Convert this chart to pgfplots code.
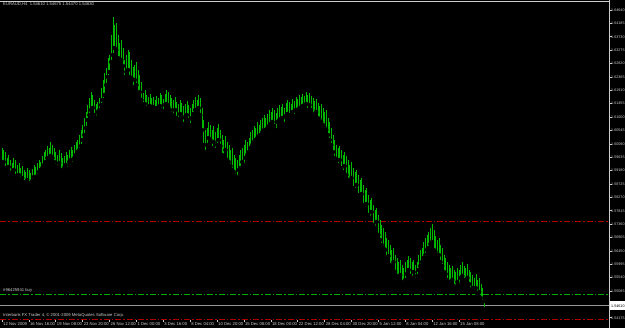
\documentclass[border=0pt]{standalone}
\usepackage{fontspec}
\setmainfont{Liberation Sans}
\usepackage{pgfplots}
\usepackage{pgfplotstable}
\usetikzlibrary{backgrounds}
\pgfplotsset{compat=1.18}
\definecolor{barg}{RGB}{0,185,0}
\definecolor{axgray}{RGB}{205,205,205}
\definecolor{ordred}{RGB}{175,0,0}
\definecolor{ordgreen}{RGB}{0,170,0}
\definecolor{bidgray}{RGB}{150,150,150}

\pgfplotstableread{
i hi lo
0 1.59948 1.59370
1 1.59880 1.59472
2 1.59812 1.59268
3 1.59608 1.59200
4 1.59710 1.59302
5 1.59540 1.59030
6 1.59438 1.59132
7 1.59608 1.59200
8 1.59540 1.58996
9 1.59370 1.58928
10 1.59438 1.59030
11 1.59268 1.58860
12 1.59336 1.58928
13 1.59200 1.58724
14 1.59132 1.58792
15 1.59268 1.58860
16 1.59200 1.58656
17 1.59098 1.58758
18 1.59234 1.58826
19 1.59370 1.58962
20 1.59302 1.58894
21 1.59438 1.58996
22 1.59540 1.59132
23 1.59472 1.59200
24 1.59676 1.59268
25 1.59812 1.59370
26 1.59880 1.59472
27 1.60016 1.59608
28 1.59948 1.59540
29 1.60152 1.59676
30 1.60050 1.59608
31 1.59948 1.59472
32 1.59812 1.59336
33 1.59710 1.59268
34 1.59880 1.59438
35 1.59778 1.59200
36 1.59608 1.59132
37 1.59676 1.59268
38 1.59812 1.59370
39 1.59710 1.59234
40 1.59880 1.59472
41 1.59982 1.59540
42 1.59880 1.59404
43 1.60050 1.59608
44 1.60152 1.59710
45 1.60220 1.59812
46 1.60390 1.59880
47 1.60560 1.60016
48 1.60730 1.60220
49 1.60968 1.60390
50 1.61172 1.60628
51 1.61410 1.60900
52 1.61648 1.61070
53 1.61852 1.61240
54 1.61750 1.61308
55 1.61580 1.61070
56 1.61444 1.60968
57 1.61512 1.61172
58 1.61648 1.61240
59 1.61988 1.61410
60 1.62260 1.61580
61 1.62498 1.61750
62 1.62668 1.62090
63 1.63008 1.62362
64 1.63110 1.62532
65 1.63790 1.62872
66 1.64402 1.63110
67 1.64130 1.63348
68 1.64198 1.63280
69 1.63790 1.63008
70 1.63518 1.62838
71 1.63620 1.62940
72 1.63348 1.62736
73 1.62940 1.62362
74 1.63110 1.62532
75 1.63280 1.62600
76 1.63212 1.62362
77 1.62940 1.62328
78 1.62702 1.62022
79 1.62770 1.62260
80 1.62872 1.62090
81 1.62600 1.61818
82 1.62430 1.61852
83 1.62192 1.61580
84 1.61818 1.61342
85 1.61920 1.61444
86 1.61750 1.61308
87 1.61682 1.61240
88 1.61784 1.61376
89 1.61648 1.61274
90 1.61682 1.61342
91 1.61580 1.61172
92 1.61716 1.61308
93 1.61648 1.61240
94 1.61818 1.61376
95 1.61750 1.61240
96 1.61614 1.61172
97 1.61784 1.61410
98 1.61920 1.61444
99 1.61852 1.61342
100 1.61750 1.61240
101 1.61648 1.61104
102 1.61580 1.61036
103 1.61682 1.61240
104 1.61512 1.60968
105 1.61444 1.60900
106 1.61580 1.61104
107 1.61478 1.60968
108 1.61376 1.60764
109 1.61444 1.61002
110 1.61546 1.61070
111 1.61410 1.60900
112 1.61308 1.60730
113 1.61444 1.60968
114 1.61580 1.61104
115 1.61682 1.61240
116 1.61580 1.61172
117 1.61750 1.61308
118 1.61648 1.61070
119 1.61308 1.60560
120 1.60900 1.60050
121 1.60560 1.59812
122 1.60628 1.60050
123 1.60832 1.60288
124 1.60730 1.60220
125 1.60560 1.59948
126 1.60696 1.60152
127 1.60492 1.59880
128 1.60628 1.60050
129 1.60764 1.60220
130 1.60560 1.60016
131 1.60390 1.59710
132 1.60220 1.59608
133 1.60356 1.59880
134 1.60152 1.59540
135 1.60050 1.59472
136 1.59880 1.59336
137 1.59948 1.59200
138 1.59710 1.59132
139 1.59608 1.58996
140 1.59540 1.58928
141 1.59710 1.59200
142 1.59880 1.59268
143 1.59948 1.59472
144 1.60050 1.59370
145 1.60220 1.59608
146 1.60152 1.59710
147 1.60288 1.59812
148 1.60492 1.59948
149 1.60560 1.60050
150 1.60696 1.60152
151 1.60628 1.60220
152 1.60832 1.60288
153 1.60730 1.60356
154 1.60900 1.60390
155 1.60968 1.60492
156 1.61070 1.60560
157 1.60968 1.60458
158 1.61104 1.60628
159 1.61240 1.60696
160 1.61172 1.60764
161 1.61308 1.60832
162 1.61240 1.60696
163 1.61138 1.60560
164 1.61308 1.60832
165 1.61410 1.60900
166 1.61342 1.60934
167 1.61444 1.60968
168 1.61308 1.60764
169 1.61478 1.61036
170 1.61580 1.61104
171 1.61512 1.60968
172 1.61444 1.61070
173 1.61614 1.61172
174 1.61546 1.61036
175 1.61682 1.61240
176 1.61614 1.61172
177 1.61750 1.61308
178 1.61682 1.61240
179 1.61784 1.61376
180 1.61716 1.61308
181 1.61852 1.61444
182 1.61750 1.61240
183 1.61818 1.61410
184 1.61716 1.61240
185 1.61648 1.61104
186 1.61546 1.61070
187 1.61614 1.61172
188 1.61478 1.60968
189 1.61376 1.60900
190 1.61444 1.60832
191 1.61308 1.60730
192 1.61172 1.60628
193 1.61240 1.60560
194 1.60968 1.60390
195 1.60832 1.60220
196 1.60628 1.60050
197 1.60390 1.59812
198 1.60220 1.59608
199 1.60050 1.59540
200 1.59948 1.59370
201 1.60016 1.59540
202 1.59880 1.59268
203 1.59710 1.59132
204 1.59812 1.59336
205 1.59676 1.59030
206 1.59540 1.58860
207 1.59370 1.58792
208 1.59472 1.58928
209 1.59268 1.58588
210 1.59132 1.58520
211 1.59200 1.58690
212 1.59030 1.58350
213 1.58860 1.58248
214 1.58928 1.58384
215 1.58690 1.58010
216 1.58520 1.57908
217 1.58588 1.58044
218 1.58350 1.57670
219 1.58180 1.57568
220 1.58248 1.57772
221 1.58010 1.57330
222 1.57840 1.57228
223 1.57908 1.57432
224 1.57670 1.56990
225 1.57500 1.56820
226 1.57330 1.56650
227 1.57228 1.56548
228 1.57092 1.56480
229 1.56888 1.56208
230 1.56820 1.56276
231 1.56650 1.55970
232 1.56480 1.55868
233 1.56548 1.56072
234 1.56310 1.55732
235 1.56208 1.55596
236 1.56072 1.55528
237 1.56140 1.55630
238 1.55970 1.55392
239 1.55868 1.55324
240 1.56072 1.55460
241 1.56140 1.55664
242 1.56276 1.55800
243 1.56208 1.55596
244 1.56072 1.55528
245 1.56140 1.55732
246 1.55970 1.55460
247 1.56072 1.55596
248 1.56310 1.55800
249 1.56480 1.55936
250 1.56548 1.56072
251 1.56752 1.56208
252 1.56888 1.56310
253 1.56990 1.56480
254 1.57092 1.56548
255 1.57228 1.56684
256 1.57364 1.56752
257 1.57160 1.56480
258 1.56956 1.56412
259 1.56820 1.56208
260 1.56888 1.56310
261 1.56650 1.56072
262 1.56548 1.55936
263 1.56310 1.55732
264 1.56208 1.55664
265 1.56072 1.55460
266 1.55970 1.55392
267 1.55868 1.55290
268 1.55936 1.55460
269 1.55800 1.55256
270 1.55732 1.55188
271 1.55868 1.55392
272 1.55800 1.55290
273 1.55970 1.55528
274 1.56072 1.55596
275 1.55936 1.55460
276 1.55868 1.55392
277 1.56004 1.55528
278 1.55800 1.55324
279 1.55732 1.55120
280 1.55630 1.55188
281 1.55528 1.55052
282 1.55664 1.55188
283 1.55460 1.54950
284 1.55528 1.55052
285 1.55324 1.54848
286 1.55188 1.54712
287 1.54675 1.54470
}\bars

\begin{document}
\begin{tikzpicture}[x=1pt,y=1pt]
\begin{axis}[
  name=mt, at={(0pt,8pt)}, anchor=south west, scale only axis,
  width=609pt, height=319pt,
  xmin=-1.19, xmax=361.3, ymin=1.54100, ymax=1.64946,
  axis line style={draw=none},
  tick style={axgray, line width=0.6pt},
  tick align=outside, major tick length=2.5pt,
  xtick pos=bottom, ytick pos=right,
  yticklabel pos=right,
  xtick={0,16,...,272},
  xticklabels={12 Nov 2009,16 Nov 16:00,19 Nov 08:00,23 Nov 20:00,26 Nov 12:00,1 Dec 00:00,3 Dec 16:00,8 Dec 04:00,10 Dec 20:00,15 Dec 08:00,18 Dec 00:00,22 Dec 12:00,28 Dec 04:00,30 Dec 20:00,5 Jan 12:00,8 Jan 04:00,12 Jan 16:00,15 Jan 08:00},
  xticklabel style={anchor=north west, inner sep=0pt, xshift=1pt, text=axgray, font=\fontsize{4.2}{5}\selectfont},
  ytick={1.64640,1.64185,1.63730,1.63275,1.62820,1.62365,1.61910,1.61455,1.61000,1.60545,1.60090,1.59635,1.59180,1.58725,1.58270,1.57815,1.57360,1.56905,1.56450,1.55995,1.55540,1.55085,1.54175},
  yticklabels={1.64640,1.64185,1.63730,1.63275,1.62820,1.62365,1.61910,1.61455,1.61000,1.60545,1.60090,1.59635,1.59180,1.58725,1.58270,1.57815,1.57360,1.56905,1.56450,1.55995,1.55540,1.55085,1.54175},
  yticklabel style={anchor=west, inner sep=0pt, xshift=-0.5pt, text=axgray, font=\fontsize{3.7}{4.5}\selectfont},
]
\addplot[ordred, line width=0.6pt, dash pattern=on 6pt off 2pt on 1.5pt off 2pt, forget plot]
  coordinates {(-1.19,1.57466) (361.3,1.57466)};
\addplot[ordred, line width=0.6pt, dash pattern=on 6pt off 2pt on 1.5pt off 2pt, forget plot]
  coordinates {(-1.19,1.54134) (361.3,1.54134)};
\addplot[ordgreen, line width=0.6pt, dash pattern=on 6pt off 2pt on 1.5pt off 2pt, forget plot]
  coordinates {(-1.19,1.54984) (361.3,1.54984)};
\addplot[bidgray, line width=0.6pt, forget plot]
  coordinates {(-1.19,1.54610) (361.3,1.54610)};
\addplot[only marks, mark=none, forget plot,
  error bars/.cd, y dir=plus, y explicit, error mark=none,
  error bar style={barg, line width=0.55pt}]
  table[x=i, y=lo, y error expr=\thisrow{hi}-\thisrow{lo}] {\bars};
\end{axis}
\begin{scope}[on background layer]
\fill[black] (0,0) rectangle (625,328);
\end{scope}
\draw[axgray, line width=0.6pt] (609,0) -- (609,328);
\draw[axgray, line width=0.6pt] (0,326.5) -- (609,326.5);
\node[anchor=north west, inner sep=0pt, text=axgray, font=\fontsize{4.2}{5}\selectfont] at (3,325.5) {EURAUD,H4\ \ 1.54610 1.54675 1.54470 1.54630};
\node[anchor=south west, inner sep=0pt, text=axgray, font=\fontsize{4.2}{5}\selectfont] at (3,35) {\#96425941 buy};
\node[anchor=west, inner sep=0pt, text=axgray, font=\fontsize{4.2}{5}\selectfont] at (3,13) {Interbank FX Trader 4, © 2001-2009 MetaQuotes Software Corp.};
\fill[white] (610,18) rectangle (625,26.5);
\node[anchor=west, inner sep=0pt, text=black, font=\fontsize{3.7}{4.5}\selectfont] at (611,22.2) {1.54610};
\pgfresetboundingbox
\path[use as bounding box] (0,0) rectangle (625,328);
\end{tikzpicture}
\end{document}
